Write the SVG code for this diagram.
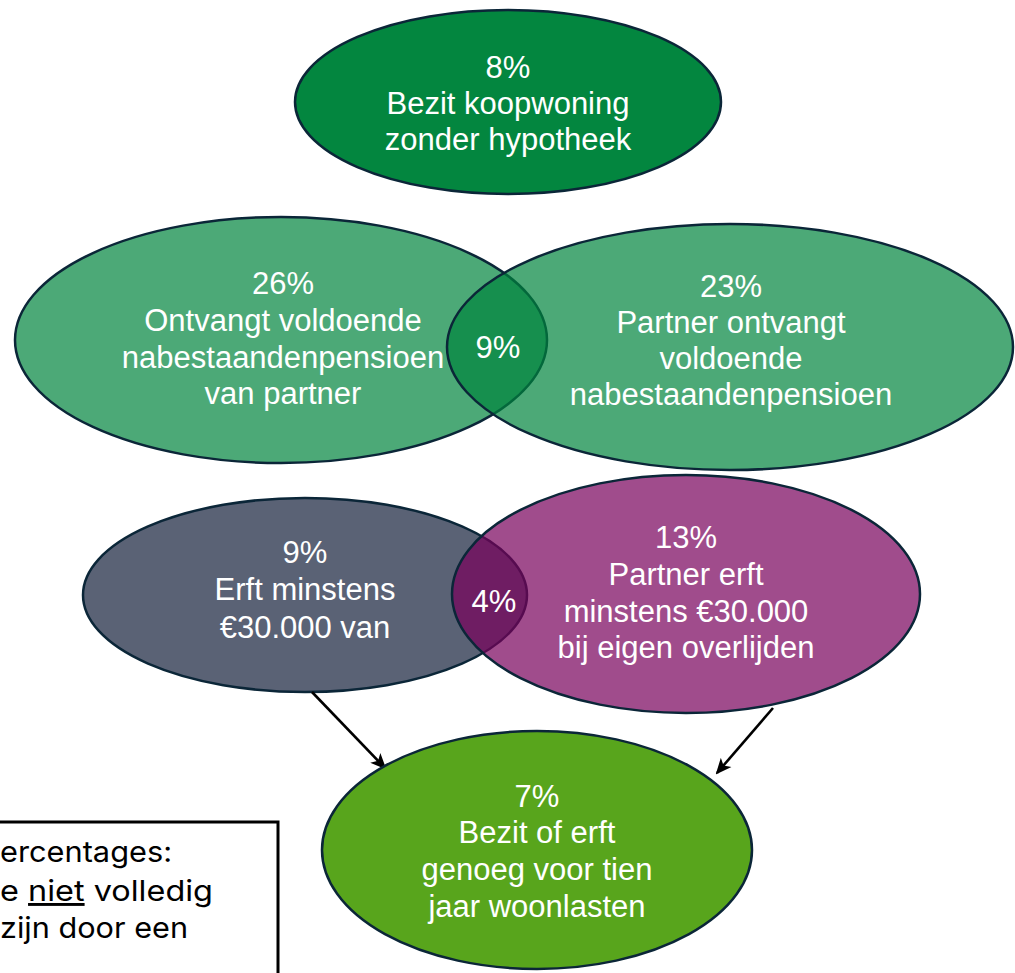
<svg xmlns="http://www.w3.org/2000/svg" width="1015" height="973" viewBox="0 0 1015 973">
<style>
.e{stroke:#0b2638;stroke-width:2.5}
.t{font-family:"Liberation Sans",Arial,sans-serif;font-size:31px;fill:#ffffff;text-anchor:middle}
.n{font-family:Inter,"Open Sans",sans-serif;font-size:29px;fill:#000}
.c{stroke:#000;stroke-width:2.6;fill:none;marker-end:url(#ah)}
</style>
<defs>
<marker id="ah" markerWidth="16" markerHeight="16" refX="14" refY="8" orient="auto" markerUnits="userSpaceOnUse" viewBox="0 0 16 16">
<path d="M0,1 L16,8 L0,15 L4,8 Z" fill="#000"/>
</marker>
</defs>
<rect width="1015" height="973" fill="#fff"/>
<g id="node-top">
<ellipse class="e" cx="508" cy="102" rx="213" ry="92" fill="#03863f"/>
<text class="t" x="508" y="78">8%</text>
<text class="t" x="508" y="114">Bezit koopwoning</text>
<text class="t" x="508" y="150">zonder hypotheek</text>
</g>
<g id="node-left">
<ellipse class="e" cx="281" cy="340" rx="266" ry="123" fill="#00843d" fill-opacity="0.7"/>
</g>
<g id="node-right">
<ellipse class="e" cx="730" cy="347" rx="283" ry="123" fill="#00843d" fill-opacity="0.7"/>
</g>
<g id="labels-mid">
<text class="t" x="283" y="294">26%</text>
<text class="t" x="283" y="331">Ontvangt voldoende</text>
<text class="t" x="283" y="368">nabestaandenpensioen</text>
<text class="t" x="283" y="404">van partner</text>
<text class="t" x="498" y="358">9%</text>
<text class="t" x="731" y="297">23%</text>
<text class="t" x="731" y="333">Partner ontvangt</text>
<text class="t" x="731" y="369">voldoende</text>
<text class="t" x="731" y="405">nabestaandenpensioen</text>
</g>
<g id="node-slate">
<ellipse class="e" cx="305" cy="595" rx="222" ry="97" fill="#5a6275"/>
</g>
<g id="node-magenta">
<ellipse class="e" cx="686" cy="594" rx="234" ry="119" fill="#77005b" fill-opacity="0.7"/>
</g>
<g id="labels-row3">
<text class="t" x="305" y="563">9%</text>
<text class="t" x="305" y="600">Erft minstens</text>
<text class="t" x="305" y="638">€30.000 van</text>
<text class="t" x="494" y="612">4%</text>
<text class="t" x="686" y="548">13%</text>
<text class="t" x="686" y="585">Partner erft</text>
<text class="t" x="686" y="622">minstens €30.000</text>
<text class="t" x="686" y="658">bij eigen overlijden</text>
</g>
<g id="connectors">
<line class="c" x1="312" y1="692" x2="385" y2="768"/>
<line class="c" x1="773" y1="708" x2="717" y2="773"/>
</g>
<g id="node-bottom">
<ellipse class="e" cx="537" cy="850" rx="215" ry="119" fill="#58a51c"/>
<text class="t" x="537" y="807">7%</text>
<text class="t" x="537" y="843">Bezit of erft</text>
<text class="t" x="537" y="880">genoeg voor tien</text>
<text class="t" x="537" y="917">jaar woonlasten</text>
</g>
<g id="note">
<rect x="-10" y="822" width="288" height="170" fill="#fff" stroke="#000" stroke-width="3"/>
<text class="n" x="0" y="862" textLength="172" lengthAdjust="spacingAndGlyphs">ercentages:</text>
<text class="n" x="0" y="901" textLength="213" lengthAdjust="spacingAndGlyphs">e <tspan text-decoration="underline">niet</tspan> volledig</text>
<text class="n" x="0" y="938" textLength="188" lengthAdjust="spacingAndGlyphs">zijn door een</text>
</g>
</svg>
